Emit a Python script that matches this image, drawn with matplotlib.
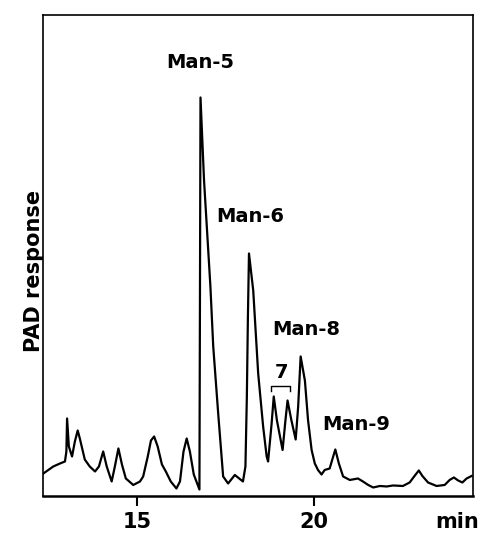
import numpy as np
import matplotlib.pyplot as plt

# retention time (min) and detector response (arbitrary units)
time_min = [12.35, 12.63, 12.82, 12.96, 13.00, 13.02, 13.07, 13.16, 13.24, 13.32,
            13.38, 13.52, 13.66, 13.81, 13.92, 14.04, 14.14, 14.28, 14.37, 14.47,
            14.57, 14.68, 14.89, 15.08, 15.17, 15.30, 15.39, 15.48, 15.58, 15.70,
            15.81, 15.95, 16.11, 16.21, 16.31, 16.40, 16.49, 16.60, 16.76, 16.775,
            16.79, 16.89, 17.07, 17.15, 17.29, 17.43, 17.57, 17.76,
            17.99, 18.06, 18.10, 18.13, 18.16, 18.28, 18.42, 18.56, 18.66, 18.70,
            18.80, 18.86, 18.95, 19.11, 19.19, 19.25, 19.36, 19.48, 19.55, 19.62,
            19.74, 19.83, 19.93, 20.02, 20.11, 20.21, 20.30, 20.44, 20.54, 20.60,
            20.70, 20.82, 21.01, 21.24, 21.38, 21.53, 21.67, 21.86, 22.05, 22.23,
            22.51, 22.70, 22.86, 22.96, 23.06, 23.22, 23.46, 23.69, 23.83, 23.95,
            24.07, 24.19, 24.31, 24.45]
response = [23, 30, 33, 35, 45, 78, 50, 40, 55, 66,
            58, 37, 30, 25, 30, 45, 30, 15, 30, 48,
            32, 18, 11.5, 15, 20, 40, 56, 60, 50, 32,
            25, 15, 8, 15, 45, 58, 45, 22, 7, 200,
            399, 316, 210, 150, 83, 20, 13, 21.5,
            15, 30, 100, 180, 243, 206, 123, 70, 40, 35,
            73, 100, 76, 46.5, 76, 96, 76, 57, 90, 140,
            116, 76, 46.5, 33, 26.5, 22, 26.5, 28, 40, 47,
            33, 20, 16.5, 18, 15, 11.5, 9, 10.5, 10, 11,
            10.5, 14, 21.5, 26, 20.5, 14, 10.5, 11.5, 16.5, 19,
            16, 14, 18, 20.5]

peak_labels = ["Man-5", "Man-6", "Man-8", "7", "Man-9"]
label_x = [16.78, 18.21, 19.77, 19.09, 21.18]
label_y = [434, 280, 167, 124, 72]
bracket_x = [18.77, 19.31]
bracket_y = 110

fig = plt.figure(figsize=(4.78, 5.35), dpi=100)
ax = fig.add_axes([0.090, 0.072, 0.8995, 0.900])

ax.plot(time_min, response, color="black", lw=1.6, solid_joinstyle="round")

for lab, x, y in zip(peak_labels, label_x, label_y):
    ax.text(x, y, lab, ha="center", va="center", fontsize=14, fontweight="bold")

# bracket over the two Man-7 isomers
ax.plot([bracket_x[0], bracket_x[0], bracket_x[1], bracket_x[1]],
        [bracket_y - 5, bracket_y, bracket_y, bracket_y - 5], color="black", lw=1.0)

ax.set_xlim(12.34, 24.49)
ax.set_ylim(0, 481.5)
ax.set_xticks([15, 20])
ax.set_xticklabels(["15", "20"], fontsize=15, fontweight="bold")
ax.set_yticks([])
ax.tick_params(axis="x", direction="out", length=7, width=1.5, pad=4)
for s in ax.spines.values():
    s.set_linewidth(1.2)
ax.spines["bottom"].set_linewidth(1.8)

fig.text(457 / 478, 1 - 522 / 535, "min", ha="center", va="center",
         fontsize=15, fontweight="bold")
fig.text(34 / 478, 1 - 271 / 535, "PAD response", ha="center", va="center",
         rotation=90, fontsize=15, fontweight="bold")

fig.savefig("out.png", dpi=100)
